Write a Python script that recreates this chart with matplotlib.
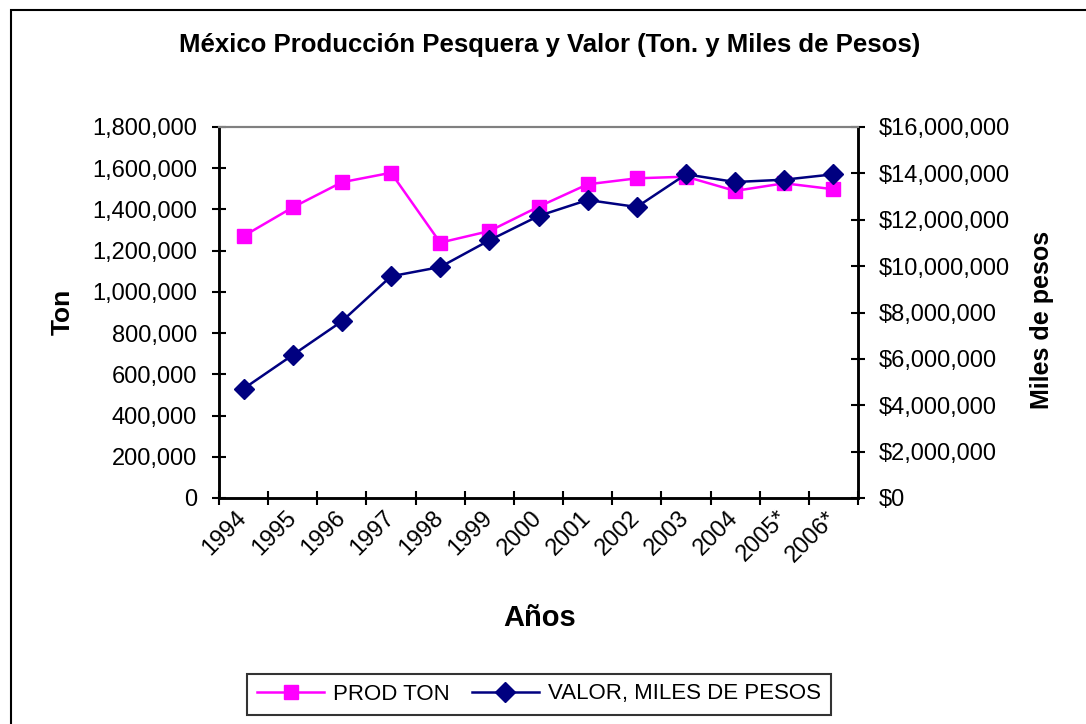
import numpy as np
import matplotlib
matplotlib.use("Agg")
import matplotlib.pyplot as plt
from matplotlib.patches import Rectangle
from matplotlib.ticker import FuncFormatter, FixedLocator, NullFormatter

plt.rcParams['font.family'] = ['Liberation Sans', 'DejaVu Sans']

# datos
years = ['1994', '1995', '1996', '1997', '1998', '1999', '2000',
         '2001', '2002', '2003', '2004', '2005*', '2006*']
prod_ton = [1271000, 1410000, 1532000, 1578000, 1239000, 1295000, 1413000,
            1522000, 1551000, 1559000, 1490000, 1527000, 1498000]
valor_miles = [4714000, 6167000, 7620000, 9561000, 9962000, 11113000, 12162000,
               12852000, 12550000, 13960000, 13628000, 13728000, 13960000]

W, H = 1086, 724
fig = plt.figure(figsize=(W / 100, H / 100), dpi=100)

# marco exterior del gráfico
fig.patches.append(Rectangle((11 / W, -0.05), 1.2, 1 - 10 / H + 0.05,
                             transform=fig.transFigure, fill=False,
                             edgecolor='black', linewidth=1.5))

ax = fig.add_axes([219 / W, 1 - 498 / H, (858 - 219) / W, (498 - 127) / H])
ax2 = ax.twinx()

x = np.arange(len(years))
l1, = ax.plot(x, prod_ton, color='#FF00FF', marker='s', markersize=10,
              linewidth=1.8, label='PROD TON')
l2, = ax2.plot(x, valor_miles, color='#000080', marker='D', markersize=10,
               linewidth=1.8, label='VALOR, MILES DE PESOS')

ax.set_xlim(-0.5, len(years) - 0.5)
ax.set_ylim(0, 1800000)
ax2.set_ylim(0, 16000000)
ax.set_yticks(np.arange(0, 1800001, 200000))
ax2.set_yticks(np.arange(0, 16000001, 2000000))
ax.yaxis.set_major_formatter(FuncFormatter(lambda v, p: f'{v:,.0f}'))
ax2.yaxis.set_major_formatter(FuncFormatter(lambda v, p: f'${v:,.0f}'))

# ticks en los límites de categoría, etiquetas al centro
ax.xaxis.set_major_locator(FixedLocator(np.arange(-0.5, len(years), 1)))
ax.xaxis.set_major_formatter(NullFormatter())
ax.xaxis.set_minor_locator(FixedLocator(x))
ax.set_xticklabels(years, minor=True)
ax.tick_params(axis='x', which='minor', length=0, pad=12, labelsize=17)
for t in ax.get_xticklabels(minor=True):
    t.set_rotation(45)
    t.set_ha('right')
    t.set_va('center')
    t.set_rotation_mode('anchor')

ax.tick_params(axis='x', which='major', direction='inout', length=10, width=1.5)
ax.tick_params(axis='y', direction='inout', length=10, width=1.5, labelsize=17, pad=11)
ax2.tick_params(axis='y', direction='inout', length=10, width=1.5, labelsize=17, pad=10)

for a in (ax, ax2):
    for s in ('left', 'right', 'bottom'):
        a.spines[s].set_linewidth(1.8)
    a.spines['top'].set_color('#808080')
    a.spines['top'].set_linewidth(1.5)

fig.text(63 / W, 1 - 312 / H, 'Ton', fontsize=19, fontweight='bold',
         rotation=90, ha='center', va='center')
fig.text(1042 / W, 1 - 320 / H, 'Miles de pesos', fontsize=18, fontweight='bold',
         rotation=90, ha='center', va='center')
fig.text(540 / W, 1 - 618 / H, 'Años', fontsize=21, fontweight='bold',
         ha='center', va='center')
fig.text(550 / W, 1 - 45 / H,
         'México Producción Pesquera y Valor (Ton. y Miles de Pesos)',
         fontsize=18.5, fontweight='bold', ha='center', va='center')

leg = fig.legend(handles=[l1, l2], loc='center', bbox_to_anchor=(539 / W, 1 - 694 / H),
                 ncol=2, fontsize=16, frameon=True, fancybox=False,
                 handlelength=3.0, columnspacing=1.0, handletextpad=0.4,
                 borderpad=0.45)
leg.get_frame().set_edgecolor('black')
leg.get_frame().set_linewidth(1.5)

fig.savefig('out.png', dpi=100)
